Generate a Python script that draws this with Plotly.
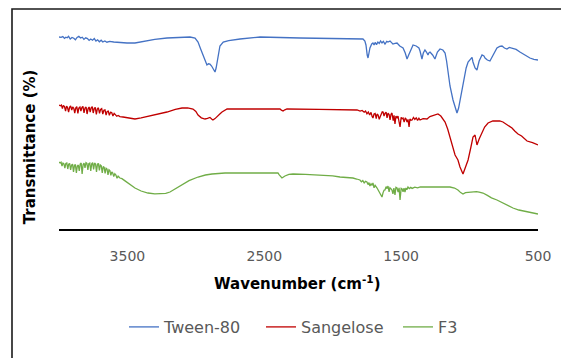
import plotly.graph_objects as go

# ---- data (wavenumber cm-1, transmittance in arbitrary offset units) ----
tween_wn = [4000, 3985, 3972, 3960, 3950, 3940, 3930, 3918, 3905, 3892, 3880, 3868, 3855, 3842,
            3830, 3818, 3805, 3792, 3780, 3768, 3755, 3742, 3730, 3718, 3705, 3692, 3680, 3665,
            3650, 3630, 3600, 3560, 3503, 3445, 3372, 3300, 3211, 3100, 3043, 3006, 2984, 2965,
            2948, 2930, 2919, 2908, 2897, 2885, 2875, 2866, 2860, 2852, 2845, 2824, 2800, 2760,
            2677, 2531, 2239, 1947, 1850, 1779, 1765, 1757, 1748, 1742, 1735, 1728, 1715, 1706,
            1698, 1690, 1680, 1670, 1660, 1650, 1640, 1630, 1618, 1605, 1596, 1581, 1570, 1560,
            1545, 1530, 1510, 1486, 1470, 1457, 1445, 1435, 1420, 1413, 1390, 1370, 1362, 1348,
            1338, 1326, 1315, 1304, 1296, 1289, 1270, 1253, 1235, 1216, 1195, 1179, 1168, 1158,
            1143, 1121, 1100, 1092, 1080, 1070, 1048, 1025, 1011, 990, 982, 975, 960, 946,
            930, 909, 895, 887, 870, 851, 830, 800, 780, 763, 745, 727, 710, 690, 660, 632,
            600, 559, 530, 500]
tween_t = [96, 95.8, 96.2, 95.3, 95.9, 95.6, 96.3, 95, 95.8, 95.4, 94.6, 95.8, 96.3, 95.5,
           95.9, 94.8, 95.6, 95.2, 94.3, 95, 94.4, 95.2, 94, 94.6, 93.6, 94.4, 93.5, 94,
           93.4, 93.8, 93.5, 93.2, 93, 93, 94, 94.8, 95.5, 95.8, 96, 95.5, 93.5, 90,
           87, 83, 82, 82.6, 82.5, 81.5, 80.5, 79, 78.5, 80.5, 83.5, 91.5, 93.5, 94.2,
           95, 96, 95.5, 95, 95.2, 95, 94, 92, 87, 85.5, 88, 90.5, 92.5, 93,
           92, 93.3, 92.2, 93.5, 92.8, 94, 93, 93.8, 92.5, 93.8, 93.5, 94, 93.2, 92.5,
           92.8, 93, 91.5, 90.5, 88, 85, 87, 88.5, 91.5, 92, 91.5, 90.5, 89, 85,
           88, 89.5, 88.5, 87, 88.2, 88.5, 87, 85, 88.5, 90, 89.5, 88, 84, 78,
           71.5, 64.5, 59.5, 58, 60.5, 64.5, 73.5, 80.5, 83.5, 85.5, 85.8, 83.5, 80.5, 79.5,
           84, 87, 86.5, 85.5, 84.5, 84, 87, 90.5, 91.3, 91.5, 90.5, 90, 90.8, 90.5, 89.8, 88.5,
           87, 85.5, 84.8, 84.5]

sang_wn = [4000, 3990, 3982, 3975, 3968, 3960, 3952, 3945, 3938, 3930, 3922, 3915, 3907, 3900,
           3892, 3885, 3877, 3870, 3862, 3855, 3847, 3840, 3832, 3825, 3817, 3810, 3802, 3795,
           3787, 3780, 3772, 3765, 3757, 3750, 3742, 3735, 3727, 3720, 3712, 3704, 3696, 3688,
           3680, 3672, 3664, 3656, 3648, 3640, 3632, 3624, 3615, 3606, 3597, 3588, 3578, 3568,
           3555, 3532, 3500, 3445, 3400, 3335, 3270, 3211, 3150, 3101, 3060, 3021, 3000, 2984,
           2960, 2933, 2915, 2897, 2885, 2875, 2860, 2845, 2825, 2809, 2790, 2772, 2600, 2385,
           2375, 2363, 2350, 2334, 2100, 1947, 1880, 1822, 1800, 1785, 1770, 1760, 1750, 1740,
           1730, 1720, 1712, 1706, 1698, 1690, 1682, 1676, 1668, 1660, 1654, 1645, 1638, 1632,
           1625, 1618, 1610, 1603, 1596, 1588, 1581, 1574, 1567, 1558, 1552, 1545, 1538, 1530,
           1523, 1515, 1508, 1500, 1493, 1486, 1478, 1470, 1464, 1457, 1450, 1442, 1436, 1428,
           1420, 1410, 1400, 1390, 1380, 1370, 1362, 1340, 1311, 1290, 1260, 1231, 1210, 1195,
           1179, 1160, 1143, 1125, 1106, 1085, 1070, 1048, 1030, 1011, 990, 975, 960, 953,
           946, 930, 909, 890, 865, 830, 800, 780, 756, 720, 690, 670, 646, 620, 600, 580,
           540, 500]
sang_t = [62, 61.6, 62, 60.2, 61.8, 61.2, 59, 61.4, 60.8, 58.5, 61, 61.5, 59.5, 61,
          60.4, 58, 60.6, 61.2, 57.8, 60.5, 61, 59, 60.8, 61.3, 58, 60.5, 61, 57.5,
          60.2, 61, 58.5, 60.6, 61.2, 58, 60.3, 60.8, 57.3, 60, 60.6, 57.8, 59.8, 60.2,
          57.5, 59.4, 59.6, 57, 58.8, 59, 56.8, 58.4, 58.2, 56.5, 57.8, 57.2, 56.4, 56.8,
          56.2, 56, 55.5, 55, 55.6, 56.5, 57.5, 58.5, 59.8, 60.5, 60.6, 60, 58.8, 57,
          55.6, 55, 55.3, 55.8, 55, 54.5, 55.2, 56, 57.5, 58.5, 59.5, 60, 60, 60,
          59.4, 59, 59.6, 60, 59.8, 59.5, 59.6, 59.5, 59, 59.3, 58.4, 59, 57.6, 58.5,
          57, 58.3, 56.2, 55.5, 57.5, 57.8, 55.2, 57.5, 57, 54.8, 56, 58, 58.6, 58.5,
          56.5, 57.8, 58.4, 55.5, 58, 57.2, 54.5, 57.4, 58, 54.2, 56.8, 52.5, 56.4, 55.6,
          56.5, 53.5, 51, 55.8, 55.2, 55.5, 53.4, 55.6, 55, 53.5, 54.8, 51, 55, 54.4,
          54.5, 55.8, 54.8, 55.6, 54.3, 55.4, 54.5, 55.2, 55, 56.2, 56.8, 57.5, 56.5, 55,
          53.5, 50, 46, 42, 37, 34.5, 31, 27.5, 31, 34.5, 41, 46, 47, 44.5,
          42, 45, 48, 51, 53, 54, 54, 54, 53.5, 52, 50.5, 49, 47.5, 46.5, 45, 44,
          43.2, 42]

f3_wn = [4000, 3992, 3985, 3978, 3971, 3964, 3957, 3950, 3943, 3936, 3929, 3922, 3915, 3908,
         3901, 3894, 3887, 3880, 3873, 3866, 3859, 3852, 3845, 3838, 3831, 3824, 3817, 3810,
         3803, 3796, 3789, 3782, 3775, 3768, 3761, 3754, 3747, 3740, 3733, 3726, 3719, 3712,
         3705, 3698, 3691, 3684, 3677, 3670, 3663, 3656, 3649, 3642, 3635, 3628, 3621, 3614,
         3607, 3600, 3592, 3584, 3576, 3568, 3555, 3540, 3520, 3500, 3481, 3460, 3445, 3400,
         3350, 3300, 3247, 3220, 3189, 3150, 3101, 3050, 2984, 2930, 2882, 2787, 2600, 2400,
         2392, 2385, 2371, 2360, 2349, 2320, 2290, 2200, 2071, 2000, 1947, 1900, 1852, 1825,
         1801, 1790, 1780, 1770, 1760, 1750, 1742, 1735, 1728, 1720, 1712, 1706, 1698, 1690,
         1682, 1676, 1668, 1660, 1654, 1647, 1640, 1632, 1625, 1618, 1610, 1603, 1596, 1588,
         1582, 1575, 1567, 1560, 1553, 1545, 1538, 1530, 1522, 1515, 1508, 1500, 1493, 1486,
         1479, 1472, 1465, 1458, 1450, 1440, 1430, 1420, 1413, 1400, 1380, 1360, 1311, 1250,
         1200, 1143, 1110, 1085, 1065, 1048, 1030, 1015, 997, 970, 950, 930, 902, 870,
         840, 800, 760, 720, 683, 640, 600, 580, 540, 500]
f3_t = [33.5, 33, 33.4, 31.5, 33, 32.6, 30.5, 32.8, 33, 30, 32.4, 32.8, 29.5, 32,
        32.4, 28.5, 31.8, 32.2, 28, 31.5, 32, 29, 32.5, 33, 27.5, 32.2, 33, 30.5,
        33.2, 32.8, 29.5, 32.7, 33, 29, 32.6, 33.2, 29.8, 33, 32.5, 28.5, 32.4, 32.8,
        29.3, 32, 31.6, 28, 31.2, 30.8, 27.8, 30.4, 30, 27, 29.6, 29.2, 26.8, 28.6,
        28, 26.2, 27.6, 27, 25.4, 26.4, 25.5, 25.2, 24.2, 23.3, 22.5, 21.3, 20.5, 19,
        18, 17.6, 17.5, 17.8, 18.5, 20, 22, 24.2, 26, 27, 27.5, 28, 28, 28,
        27.2, 26.5, 25.5, 26, 26.5, 27.3, 27.5, 27.3, 27, 26.6, 26, 25.8, 25.5, 25,
        24.5, 23.6, 24.2, 23, 23.8, 23.5, 22.2, 23.2, 21.5, 22.6, 21.8, 23, 20.6, 21.8,
        21.3, 20.5, 19.5, 18.6, 18, 17.2, 16, 18.2, 19.4, 19.5, 21.2, 20.2, 21.5, 18.6,
        20.6, 20.2, 19.5, 17.6, 20.4, 17, 20.8, 20.5, 18.4, 20.6, 14.5, 20.3, 20, 18.6,
        20.4, 18.5, 20.5, 19.6, 21, 20.2, 20.8, 20.3, 20.5, 20.9, 20.6, 21.1, 21, 21,
        21, 21, 20.5, 19.5, 18.2, 17.5, 18.2, 18.3, 18.5, 18.8, 18.7, 18.4, 18, 16.8,
        15.6, 14.5, 13.1, 11.8, 10.5, 9.5, 8.9, 8.5, 7.9, 7.5]

x_ticks = [3500, 2500, 1500, 500]
series_names = ["Tween-80", "Sangelose", "F3"]
series_colors = ["#4472C4", "#C00000", "#70AD47"]

fig = go.Figure()
for name, wn, t, col in zip(series_names, [tween_wn, sang_wn, f3_wn],
                            [tween_t, sang_t, f3_t], series_colors):
    fig.add_trace(go.Scatter(x=wn, y=t, mode="lines", name=name,
                             line=dict(color=col, width=1.3)))

fig.update_layout(
    width=569, height=358,
    margin=dict(l=51, r=39, t=21, b=137),
    paper_bgcolor="white", plot_bgcolor="white",
    font=dict(family="DejaVu Sans", color="#595959", size=14),
    showlegend=True,
    legend=dict(orientation="h", x=(124 - 59) / 479, xanchor="left", y=-0.49, yanchor="middle",
                font=dict(size=16, color="#595959", family="DejaVu Sans"),
                itemwidth=30, entrywidth=92, entrywidthmode="pixels", tracegroupgap=0),
    xaxis=dict(range=[4000, 500], tickvals=x_ticks, ticktext=[str(v) for v in x_ticks],
               showgrid=False, zeroline=False, showline=True, linecolor="#000000",
               linewidth=1.6, ticks="", ticklabelstandoff=13,
               tickfont=dict(size=14, color="#595959", family="DejaVu Sans")),
    yaxis=dict(range=[0, 100], showgrid=False, zeroline=False, showline=False,
               showticklabels=False, ticks=""),
    annotations=[
        dict(text="Wavenumber (cm<sup>-1</sup>)", xref="paper", yref="paper",
             x=0.498, y=-0.27, xanchor="center", yanchor="middle", showarrow=False,
             font=dict(size=15, color="#000000", family="DejaVu Sans", weight="bold")),
        dict(text="Transmittance (%)", xref="paper", yref="paper", textangle=-90,
             x=-0.06, y=0.41, xanchor="center", yanchor="middle", showarrow=False,
             font=dict(size=15, color="#000000", family="DejaVu Sans", weight="bold")),
    ],
    shapes=[
        dict(type="rect", xref="paper", yref="paper",
             x0=(12 - 59) / 479, x1=(590 - 59) / 479,
             y0=(229 - 380) / 200, y1=(229 - 9) / 200,
             line=dict(color="#1a1a1a", width=1.6), fillcolor="rgba(0,0,0,0)", layer="below"),
    ],
)

fig.write_html("out.html")
